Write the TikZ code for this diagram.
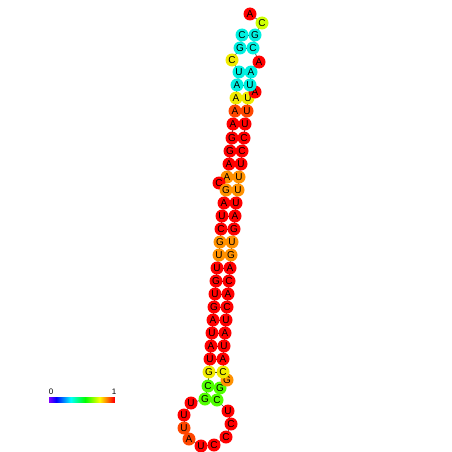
\documentclass[tikz,border=0pt]{standalone}
\usepackage{fontspec}
\setmainfont{Liberation Sans}
\definecolor{nred}{RGB}{255,0,0}
\definecolor{nored}{RGB}{255,70,0}
\definecolor{norange}{RGB}{255,145,0}
\definecolor{nyellow}{RGB}{240,235,0}
\definecolor{nlime}{RGB}{205,255,0}
\definecolor{ncyan}{RGB}{0,240,225}
\definecolor{ngreen}{RGB}{80,255,0}
\usetikzlibrary{backgrounds}
\tikzset{nt/.style={circle, inner sep=0pt, minimum size=13pt, font=\fontsize{10}{10}\selectfont},
  bbone/.style={black!75, line width=0.6pt},
  bpair/.style={black, line width=0.6pt}}

\begin{document}
\begin{tikzpicture}[x=1pt,y=-1pt]
    \useasboundingbox (0,0) rectangle (452,452);
    \foreach \i/\x/\y/\b/\c in {1/242/35/C/ncyan, 2/240/48/G/ncyan, 3/232/60/C/nyellow,
      4/239/72/U/ncyan, 5/237/85/A/ncyan, 6/236/98/A/nyellow, 7/235/111/A/nored,
      8/233/124/A/nred, 9/232/138/G/nred, 10/230/151/G/nred, 11/229/164/A/nred,
      12/227/177/A/norange, 13/219/183/C/nred, 14/226/190/G/norange, 15/224/203/A/nred,
      16/222/216/U/nred, 17/221/229/C/nred, 18/220/242/G/norange, 19/219/255/U/norange,
      20/217/268/U/nred, 21/216/281/G/nred, 22/215/294/U/nred, 23/214/307/G/nred,
      24/213/320/A/nred, 25/212/333/U/nred, 26/211/346/A/nred, 27/210/359/U/nred,
      28/209/372/G/nyellow, 29/208/386/C/ngreen, 30/205/399/G/ngreen,
      31/191/403/U/nred, 32/184/415/U/nred, 33/184/428/U/nored, 34/189/439/A/nored,
      35/201/446/U/nred, 36/214/445/C/nred, 37/226/437/C/nred, 38/231/424/C/nred,
      39/228/411/U/nred, 40/217/400/C/ngreen, 41/220/388/G/ngreen, 42/227/380/G/norange,
      43/223/372/C/nyellow, 44/223/359/A/nred, 45/224/346/U/nred, 46/225/333/A/nred,
      47/226/320/U/nred, 48/227/307/C/nred, 49/228/294/A/nred, 50/229/281/C/nred,
      51/230/268/A/nred, 52/231/255/G/norange, 53/232/242/U/norange, 54/234/229/G/nred,
      55/235/216/A/nred, 56/236/203/U/nred, 57/238/190/U/norange, 58/239/177/U/norange,
      59/241/164/U/nred, 60/242/151/C/nred, 61/244/138/C/nred, 62/245/124/U/nred,
      63/247/111/U/nored, 64/248/98/U/nyellow, 65/255/92/A/nred, 66/250/85/U/ncyan,
      67/251/72/A/ncyan, 68/259/62/A/nred, 69/253/48/C/ncyan, 70/255/35/G/ncyan,
      71/262/23/C/nlime, 72/250/14/A/nred}
      \node[nt, fill=\c] (n\i) at (\x,\y) {\b};
    \begin{scope}[on background layer]
      \foreach \i [evaluate=\i as \j using int(\i+1)] in {1,...,71}
        \draw[bbone] (n\i.center) -- (n\j.center);
      \foreach \p/\q in {1/70, 2/69, 4/67, 5/66, 6/64, 7/63, 8/62, 9/61, 10/60, 11/59,
        12/58, 14/57, 15/56, 16/55, 17/54, 18/53, 19/52, 20/51, 21/50, 22/49, 23/48,
        24/47, 25/46, 26/45, 27/44, 28/43, 29/41, 30/40}
        \draw[bpair] (n\p.center) -- (n\q.center);
    \end{scope}
    \foreach \k in {0,...,65} {
      \pgfmathsetmacro\hue{270*(1-\k/65)}
      \definecolor{barc}{Hsb}{\hue,1,1}
      \fill[barc] (49+\k,397) rectangle (50.3+\k,403);
    }
    \node[font=\fontsize{8}{8}\selectfont] (lo) at (51,392) {0};
    \node[font=\fontsize{8}{8}\selectfont] (hi) at (114,392) {1};
  \end{tikzpicture}
\end{document}
